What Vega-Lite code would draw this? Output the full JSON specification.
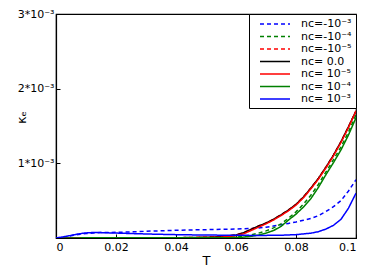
{
  "$schema": "https://vega.github.io/schema/vega-lite/v6.json",
  "width": 300,
  "height": 224,
  "autosize": {"type": "none"},
  "padding": {"left": 56, "top": 14, "right": 18, "bottom": 42},
  "background": "white",
  "config": {
    "font": "DejaVu Sans",
    "view": {"stroke": "black", "strokeWidth": 1.2},
    "axis": {"grid": false, "domainColor": "black", "domainWidth": 1.2, "tickColor": "black", "labelColor": "black", "titleColor": "black", "labelFontSize": 11, "titleFontWeight": "normal", "labelFont": "DejaVu Sans", "titleFont": "DejaVu Sans"},
    "legend": {"labelFont": "DejaVu Sans", "labelFontSize": 11, "labelColor": "black"}
  },
  "data": {"values": [
    {"s":"nc=-10⁻³","T":0,"k":0},{"s":"nc=-10⁻³","T":0.0025,"k":1.2e-5},{"s":"nc=-10⁻³","T":0.005,"k":3.0e-5},{"s":"nc=-10⁻³","T":0.0075,"k":4.8e-5},{"s":"nc=-10⁻³","T":0.01,"k":6.0e-5},{"s":"nc=-10⁻³","T":0.0125,"k":6.8e-5},{"s":"nc=-10⁻³","T":0.015,"k":7.2e-5},{"s":"nc=-10⁻³","T":0.02,"k":7.6e-5},{"s":"nc=-10⁻³","T":0.025,"k":8.2e-5},{"s":"nc=-10⁻³","T":0.03,"k":9.0e-5},{"s":"nc=-10⁻³","T":0.035,"k":9.7e-5},{"s":"nc=-10⁻³","T":0.04,"k":1.03e-4},{"s":"nc=-10⁻³","T":0.045,"k":1.08e-4},{"s":"nc=-10⁻³","T":0.05,"k":1.12e-4},{"s":"nc=-10⁻³","T":0.055,"k":1.16e-4},{"s":"nc=-10⁻³","T":0.06,"k":1.2e-4},{"s":"nc=-10⁻³","T":0.065,"k":1.27e-4},{"s":"nc=-10⁻³","T":0.0675,"k":1.34e-4},{"s":"nc=-10⁻³","T":0.07,"k":1.45e-4},{"s":"nc=-10⁻³","T":0.0725,"k":1.6e-4},{"s":"nc=-10⁻³","T":0.075,"k":1.77e-4},{"s":"nc=-10⁻³","T":0.0775,"k":1.95e-4},{"s":"nc=-10⁻³","T":0.08,"k":2.15e-4},{"s":"nc=-10⁻³","T":0.0825,"k":2.38e-4},{"s":"nc=-10⁻³","T":0.085,"k":2.62e-4},{"s":"nc=-10⁻³","T":0.0875,"k":3.0e-4},{"s":"nc=-10⁻³","T":0.09,"k":3.55e-4},{"s":"nc=-10⁻³","T":0.0925,"k":4.2e-4},{"s":"nc=-10⁻³","T":0.095,"k":5.0e-4},{"s":"nc=-10⁻³","T":0.0975,"k":6.3e-4},{"s":"nc=-10⁻³","T":0.1,"k":7.8e-4},

    {"s":"nc=-10⁻⁴","T":0,"k":0},{"s":"nc=-10⁻⁴","T":0.01,"k":3e-6},{"s":"nc=-10⁻⁴","T":0.02,"k":3e-6},{"s":"nc=-10⁻⁴","T":0.03,"k":3e-6},{"s":"nc=-10⁻⁴","T":0.04,"k":3e-6},{"s":"nc=-10⁻⁴","T":0.05,"k":4e-6},{"s":"nc=-10⁻⁴","T":0.055,"k":6e-6},{"s":"nc=-10⁻⁴","T":0.06,"k":1.2e-5},{"s":"nc=-10⁻⁴","T":0.0625,"k":2.2e-5},{"s":"nc=-10⁻⁴","T":0.065,"k":4.0e-5},{"s":"nc=-10⁻⁴","T":0.0675,"k":6.5e-5},{"s":"nc=-10⁻⁴","T":0.07,"k":9.5e-5},{"s":"nc=-10⁻⁴","T":0.0725,"k":1.35e-4},{"s":"nc=-10⁻⁴","T":0.075,"k":1.9e-4},{"s":"nc=-10⁻⁴","T":0.0775,"k":2.65e-4},{"s":"nc=-10⁻⁴","T":0.08,"k":3.5e-4},{"s":"nc=-10⁻⁴","T":0.0825,"k":4.55e-4},{"s":"nc=-10⁻⁴","T":0.085,"k":5.75e-4},{"s":"nc=-10⁻⁴","T":0.0875,"k":7.2e-4},{"s":"nc=-10⁻⁴","T":0.09,"k":8.85e-4},{"s":"nc=-10⁻⁴","T":0.0925,"k":1.05e-3},{"s":"nc=-10⁻⁴","T":0.095,"k":1.22e-3},{"s":"nc=-10⁻⁴","T":0.0975,"k":1.42e-3},{"s":"nc=-10⁻⁴","T":0.1,"k":1.65e-3},

    {"s":"nc=-10⁻⁵","T":0,"k":0},{"s":"nc=-10⁻⁵","T":0.01,"k":3e-6},{"s":"nc=-10⁻⁵","T":0.02,"k":3e-6},{"s":"nc=-10⁻⁵","T":0.03,"k":3e-6},{"s":"nc=-10⁻⁵","T":0.04,"k":4e-6},{"s":"nc=-10⁻⁵","T":0.045,"k":6e-6},{"s":"nc=-10⁻⁵","T":0.05,"k":1.0e-5},{"s":"nc=-10⁻⁵","T":0.055,"k":1.8e-5},{"s":"nc=-10⁻⁵","T":0.06,"k":4.2e-5},{"s":"nc=-10⁻⁵","T":0.0625,"k":7.2e-5},{"s":"nc=-10⁻⁵","T":0.065,"k":1.17e-4},{"s":"nc=-10⁻⁵","T":0.0675,"k":1.62e-4},{"s":"nc=-10⁻⁵","T":0.07,"k":2.02e-4},{"s":"nc=-10⁻⁵","T":0.0725,"k":2.52e-4},{"s":"nc=-10⁻⁵","T":0.075,"k":3.12e-4},{"s":"nc=-10⁻⁵","T":0.0775,"k":3.77e-4},{"s":"nc=-10⁻⁵","T":0.08,"k":4.52e-4},{"s":"nc=-10⁻⁵","T":0.0825,"k":5.52e-4},{"s":"nc=-10⁻⁵","T":0.085,"k":6.72e-4},{"s":"nc=-10⁻⁵","T":0.0875,"k":8.02e-4},{"s":"nc=-10⁻⁵","T":0.09,"k":9.52e-4},{"s":"nc=-10⁻⁵","T":0.0925,"k":1.112e-3},{"s":"nc=-10⁻⁵","T":0.095,"k":1.292e-3},{"s":"nc=-10⁻⁵","T":0.0975,"k":1.492e-3},{"s":"nc=-10⁻⁵","T":0.1,"k":1.702e-3},

    {"s":"nc= 0.0","T":0,"k":0},{"s":"nc= 0.0","T":0.01,"k":3e-6},{"s":"nc= 0.0","T":0.02,"k":3e-6},{"s":"nc= 0.0","T":0.03,"k":3e-6},{"s":"nc= 0.0","T":0.04,"k":4e-6},{"s":"nc= 0.0","T":0.045,"k":6e-6},{"s":"nc= 0.0","T":0.05,"k":1.0e-5},{"s":"nc= 0.0","T":0.055,"k":1.8e-5},{"s":"nc= 0.0","T":0.06,"k":4.0e-5},{"s":"nc= 0.0","T":0.0625,"k":7.0e-5},{"s":"nc= 0.0","T":0.065,"k":1.15e-4},{"s":"nc= 0.0","T":0.0675,"k":1.6e-4},{"s":"nc= 0.0","T":0.07,"k":2.0e-4},{"s":"nc= 0.0","T":0.0725,"k":2.5e-4},{"s":"nc= 0.0","T":0.075,"k":3.1e-4},{"s":"nc= 0.0","T":0.0775,"k":3.75e-4},{"s":"nc= 0.0","T":0.08,"k":4.5e-4},{"s":"nc= 0.0","T":0.0825,"k":5.5e-4},{"s":"nc= 0.0","T":0.085,"k":6.7e-4},{"s":"nc= 0.0","T":0.0875,"k":8.0e-4},{"s":"nc= 0.0","T":0.09,"k":9.5e-4},{"s":"nc= 0.0","T":0.0925,"k":1.11e-3},{"s":"nc= 0.0","T":0.095,"k":1.29e-3},{"s":"nc= 0.0","T":0.0975,"k":1.49e-3},{"s":"nc= 0.0","T":0.1,"k":1.70e-3},

    {"s":"nc= 10⁻⁵","T":0,"k":0},{"s":"nc= 10⁻⁵","T":0.01,"k":2e-6},{"s":"nc= 10⁻⁵","T":0.02,"k":2e-6},{"s":"nc= 10⁻⁵","T":0.03,"k":2e-6},{"s":"nc= 10⁻⁵","T":0.04,"k":3e-6},{"s":"nc= 10⁻⁵","T":0.045,"k":4e-6},{"s":"nc= 10⁻⁵","T":0.05,"k":7e-6},{"s":"nc= 10⁻⁵","T":0.055,"k":1.2e-5},{"s":"nc= 10⁻⁵","T":0.06,"k":3.0e-5},{"s":"nc= 10⁻⁵","T":0.0625,"k":5.5e-5},{"s":"nc= 10⁻⁵","T":0.065,"k":1.0e-4},{"s":"nc= 10⁻⁵","T":0.0675,"k":1.45e-4},{"s":"nc= 10⁻⁵","T":0.07,"k":1.9e-4},{"s":"nc= 10⁻⁵","T":0.0725,"k":2.4e-4},{"s":"nc= 10⁻⁵","T":0.075,"k":3.0e-4},{"s":"nc= 10⁻⁵","T":0.0775,"k":3.65e-4},{"s":"nc= 10⁻⁵","T":0.08,"k":4.4e-4},{"s":"nc= 10⁻⁵","T":0.0825,"k":5.4e-4},{"s":"nc= 10⁻⁵","T":0.085,"k":6.6e-4},{"s":"nc= 10⁻⁵","T":0.0875,"k":7.9e-4},{"s":"nc= 10⁻⁵","T":0.09,"k":9.4e-4},{"s":"nc= 10⁻⁵","T":0.0925,"k":1.10e-3},{"s":"nc= 10⁻⁵","T":0.095,"k":1.28e-3},{"s":"nc= 10⁻⁵","T":0.0975,"k":1.48e-3},{"s":"nc= 10⁻⁵","T":0.1,"k":1.70e-3},

    {"s":"nc= 10⁻⁴","T":0,"k":0},{"s":"nc= 10⁻⁴","T":0.01,"k":2e-6},{"s":"nc= 10⁻⁴","T":0.02,"k":2e-6},{"s":"nc= 10⁻⁴","T":0.03,"k":2e-6},{"s":"nc= 10⁻⁴","T":0.04,"k":2e-6},{"s":"nc= 10⁻⁴","T":0.05,"k":2e-6},{"s":"nc= 10⁻⁴","T":0.055,"k":3e-6},{"s":"nc= 10⁻⁴","T":0.06,"k":6e-6},{"s":"nc= 10⁻⁴","T":0.0625,"k":1.2e-5},{"s":"nc= 10⁻⁴","T":0.065,"k":2.2e-5},{"s":"nc= 10⁻⁴","T":0.0675,"k":4.0e-5},{"s":"nc= 10⁻⁴","T":0.07,"k":6.5e-5},{"s":"nc= 10⁻⁴","T":0.0725,"k":1.0e-4},{"s":"nc= 10⁻⁴","T":0.075,"k":1.55e-4},{"s":"nc= 10⁻⁴","T":0.0775,"k":2.4e-4},{"s":"nc= 10⁻⁴","T":0.08,"k":3.2e-4},{"s":"nc= 10⁻⁴","T":0.0825,"k":4.15e-4},{"s":"nc= 10⁻⁴","T":0.085,"k":5.3e-4},{"s":"nc= 10⁻⁴","T":0.0875,"k":6.8e-4},{"s":"nc= 10⁻⁴","T":0.09,"k":8.5e-4},{"s":"nc= 10⁻⁴","T":0.0925,"k":1.01e-3},{"s":"nc= 10⁻⁴","T":0.095,"k":1.18e-3},{"s":"nc= 10⁻⁴","T":0.0975,"k":1.38e-3},{"s":"nc= 10⁻⁴","T":0.1,"k":1.61e-3},

    {"s":"nc= 10⁻³","T":0,"k":0},{"s":"nc= 10⁻³","T":0.0025,"k":1.5e-5},{"s":"nc= 10⁻³","T":0.005,"k":3.5e-5},{"s":"nc= 10⁻³","T":0.0075,"k":5.5e-5},{"s":"nc= 10⁻³","T":0.01,"k":6.8e-5},{"s":"nc= 10⁻³","T":0.0125,"k":7.4e-5},{"s":"nc= 10⁻³","T":0.015,"k":7.2e-5},{"s":"nc= 10⁻³","T":0.02,"k":6.6e-5},{"s":"nc= 10⁻³","T":0.025,"k":6.0e-5},{"s":"nc= 10⁻³","T":0.03,"k":5.4e-5},{"s":"nc= 10⁻³","T":0.035,"k":4.9e-5},{"s":"nc= 10⁻³","T":0.04,"k":4.5e-5},{"s":"nc= 10⁻³","T":0.045,"k":4.2e-5},{"s":"nc= 10⁻³","T":0.05,"k":4.0e-5},{"s":"nc= 10⁻³","T":0.055,"k":3.8e-5},{"s":"nc= 10⁻³","T":0.06,"k":3.6e-5},{"s":"nc= 10⁻³","T":0.065,"k":3.5e-5},{"s":"nc= 10⁻³","T":0.07,"k":3.5e-5},{"s":"nc= 10⁻³","T":0.075,"k":3.7e-5},{"s":"nc= 10⁻³","T":0.08,"k":4.5e-5},{"s":"nc= 10⁻³","T":0.085,"k":6.5e-5},{"s":"nc= 10⁻³","T":0.0875,"k":8.5e-5},{"s":"nc= 10⁻³","T":0.09,"k":1.2e-4},{"s":"nc= 10⁻³","T":0.0925,"k":1.7e-4},{"s":"nc= 10⁻³","T":0.095,"k":2.5e-4},{"s":"nc= 10⁻³","T":0.0975,"k":4.0e-4},{"s":"nc= 10⁻³","T":0.1,"k":6.0e-4}
  ]},
  "mark": {"type": "line", "strokeWidth": 1.5, "clip": true},
  "encoding": {
    "x": {"field": "T", "type": "quantitative", "scale": {"domain": [0, 0.1], "nice": false},
      "axis": {"values": [0, 0.02, 0.04, 0.06, 0.08, 0.1], "format": "~g", "tickSize": -4, "labelPadding": 7, "title": "T", "titleFontSize": 13, "titlePadding": 2}},
    "y": {"field": "k", "type": "quantitative", "scale": {"domain": [0, 0.003], "nice": false},
      "axis": {"values": [0.001, 0.002, 0.003], "labelExpr": "round(datum.value*1000) + '*10⁻³'", "tickSize": -4, "labelPadding": 6, "title": "κₑ", "titleFontSize": 13, "titleX": -35, "titleY": 103, "titleBaseline": "middle", "titleAlign": "center", "titleAngle": 270}},
    "color": {"field": "s", "type": "nominal",
      "scale": {"domain": ["nc=-10⁻³", "nc=-10⁻⁴", "nc=-10⁻⁵", "nc= 0.0", "nc= 10⁻⁵", "nc= 10⁻⁴", "nc= 10⁻³"],
                "range": ["#0000ff", "#008000", "#ff0000", "#000000", "#ff0000", "#008000", "#0000ff"]},
      "legend": {"title": null, "orient": "top-right", "offset": 0, "strokeColor": "black", "fillColor": "white", "padding": 4, "rowPadding": 1.5, "symbolType": "M-3,0L3,0", "symbolSize": 100, "symbolOffset": 16, "symbolStrokeWidth": 1.5, "labelOffset": 20, "cornerRadius": 0}},
    "strokeDash": {"field": "s", "type": "nominal",
      "scale": {"domain": ["nc=-10⁻³", "nc=-10⁻⁴", "nc=-10⁻⁵", "nc= 0.0", "nc= 10⁻⁵", "nc= 10⁻⁴", "nc= 10⁻³"],
                "range": [[4, 3], [4, 3], [4, 3], [1, 0], [1, 0], [1, 0], [1, 0]]},
      "legend": {"title": null, "orient": "top-right", "offset": 0, "strokeColor": "black", "fillColor": "white", "padding": 4, "rowPadding": 1.5, "symbolType": "M-3,0L3,0", "symbolSize": 100, "symbolOffset": 16, "symbolStrokeWidth": 1.5, "labelOffset": 20, "cornerRadius": 0}}
  }
}
